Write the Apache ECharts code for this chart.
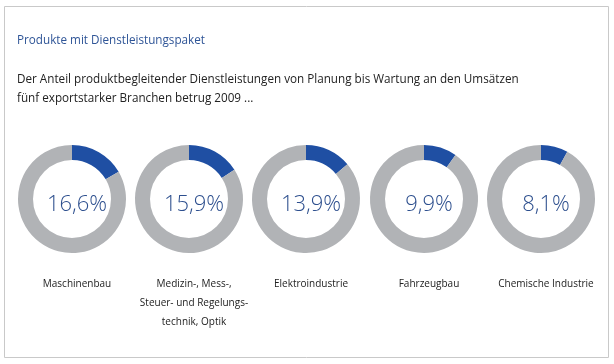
<!DOCTYPE html>
<html><head><meta charset="utf-8">
<script src="https://cdn.jsdelivr.net/npm/echarts@6/dist/echarts.min.js"></script>
<style>html,body{margin:0;padding:0;background:#fff}#c{width:614px;height:364px}</style>
</head><body><div id="c"></div>
<script>
const categories = ['Maschinenbau', 'Medizin-, Mess-,\nSteuer- und Regelungs-\ntechnik, Optik', 'Elektroindustrie', 'Fahrzeugbau', 'Chemische Industrie'];
const values = [16.6, 15.9, 13.9, 9.9, 8.1];
const titleText = 'Produkte mit Dienstleistungspaket';
const subtitleText = 'Der Anteil produktbegleitender Dienstleistungen von Planung bis Wartung an den Umsätzen\nfünf exportstarker Branchen betrug 2009 ...';

const FONT = '"Open Sans", "Noto Sans", sans-serif';
const centersX = [72, 189, 306, 424, 541];
const cy = 199;
const chart = echarts.init(document.getElementById('c'), null, {renderer: 'canvas'});

const series = values.map((v, i) => ({
  type: 'pie',
  center: [centersX[i], cy],
  radius: [39, 54],
  startAngle: 90,
  clockwise: true,
  silent: true,
  animation: false,
  label: {show: false},
  labelLine: {show: false},
  data: [
    {value: v, itemStyle: {color: '#1f4fa3'}},
    {value: 100 - v, itemStyle: {color: '#b1b3b6'}}
  ]
}));

const titles = [
  {text: titleText, left: 12, top: 30, textStyle: {fontFamily: FONT, fontSize: 11.7, fontWeight: 'normal', color: '#2f5597'}},
  {text: subtitleText, left: 12, top: 65, textStyle: {fontFamily: FONT, fontSize: 11.7, fontWeight: 'normal', color: '#222', lineHeight: 19}}
];
values.forEach((v, i) => {
  titles.push({
    text: v.toFixed(1).replace('.', ',') + '%',
    left: centersX[i], top: cy - 10, textAlign: 'center',
    textStyle: {fontFamily: FONT, fontSize: 22, fontWeight: 300, color: '#2d4f8e'}
  });
  titles.push({
    text: categories[i],
    left: centersX[i], top: 270, textAlign: 'center',
    textStyle: {fontFamily: FONT, fontSize: 10, fontWeight: 'normal', color: '#222', lineHeight: 19, align: 'center'}
  });
});

chart.setOption({
  animation: false,
  title: titles,
  graphic: [{type: 'rect', shape: {x: 4.5, y: 6.5, width: 604, height: 351}, style: {fill: null, stroke: '#c9c9c9', lineWidth: 1}, z: -1}],
  series: series
});
</script></body></html>
